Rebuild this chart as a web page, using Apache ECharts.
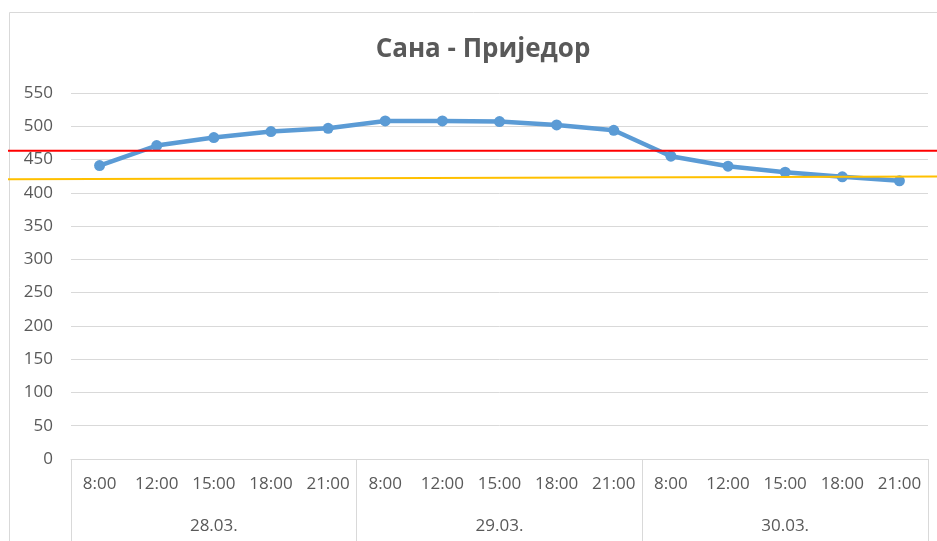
<!DOCTYPE html>
<html>
<head>
<meta charset="utf-8">
<script src="https://cdn.jsdelivr.net/npm/echarts@6/dist/echarts.min.js"></script>
<style>html,body{margin:0;padding:0;background:#fff}#c{width:937px;height:541px}</style>
</head>
<body>
<div id="c"></div>
<script>
var titleText = 'Сана - Приједор';
var times = ['8:00','12:00','15:00','18:00','21:00','8:00','12:00','15:00','18:00','21:00','8:00','12:00','15:00','18:00','21:00'];
var dates = ['28.03.','29.03.','30.03.'];
var levels = [441, 471, 483, 492, 497, 508, 508, 507, 502, 494, 455, 440, 431, 424, 418];
var redLevel = [463.3, 463.3];
var yellowLevel = [420.3, 424.4];
var yTicks = {min: 0, max: 550, interval: 50};

var FONT = 'Open Sans';
var TXT = '#595959';
var GRID = '#d9d9d9';

var chart = echarts.init(document.getElementById('c'), null, {renderer: 'canvas'});
chart.setOption({
  animation: false,
  backgroundColor: '#fff',
  title: {
    text: titleText,
    left: 478, top: 32, textAlign: 'center',
    textStyle: {fontFamily: FONT, fontWeight: 'bold', fontSize: 26, color: TXT}
  },
  graphic: [{
    type: 'rect', silent: true, z: -10,
    shape: {x: 9.5, y: 12.5, width: 1000, height: 1000},
    style: {fill: 'none', stroke: GRID, lineWidth: 1}
  }],
  grid: [
    {left: 71, right: 9, top: 93, bottom: 82, containLabel: false},
    {left: 8, right: 0, top: 93, bottom: 82, containLabel: false}
  ],
  xAxis: [
    {
      type: 'category', gridIndex: 0, data: times, boundaryGap: true,
      axisLine: {show: true, lineStyle: {color: GRID, width: 1}},
      axisTick: {show: false},
      axisLabel: {interval: 0, margin: 17, fontFamily: FONT, fontSize: 17, color: TXT}
    },
    {
      type: 'category', gridIndex: 0, data: dates, position: 'bottom', boundaryGap: true,
      axisLine: {show: false},
      axisTick: {show: true, interval: 0, length: 90, lineStyle: {color: GRID, width: 1}},
      axisLabel: {interval: 0, margin: 59, fontFamily: FONT, fontSize: 17, color: TXT}
    },
    {
      type: 'value', gridIndex: 1, min: 0, max: 1, show: false
    }
  ],
  yAxis: [
    {
      type: 'value', gridIndex: 0, min: yTicks.min, max: yTicks.max, interval: yTicks.interval,
      axisLine: {show: false}, axisTick: {show: false},
      splitLine: {show: true, lineStyle: {color: GRID, width: 1}},
      axisLabel: {margin: 18, fontFamily: FONT, fontSize: 17, color: TXT}
    },
    {
      type: 'value', gridIndex: 1, min: yTicks.min, max: yTicks.max, show: false
    }
  ],
  series: [
    {
      type: 'line', xAxisIndex: 0, yAxisIndex: 0, data: levels,
      symbol: 'circle', symbolSize: 11,
      lineStyle: {color: '#5b9bd5', width: 4.5},
      itemStyle: {color: '#5b9bd5'},
      z: 2
    },
    {
      type: 'line', xAxisIndex: 2, yAxisIndex: 1,
      data: [[0, redLevel[0]], [1, redLevel[1]]],
      symbol: 'none', lineStyle: {color: '#ff0000', width: 2}, z: 3
    },
    {
      type: 'line', xAxisIndex: 2, yAxisIndex: 1,
      data: [[0, yellowLevel[0]], [1, yellowLevel[1]]],
      symbol: 'none', lineStyle: {color: '#ffc000', width: 2}, z: 3
    }
  ]
});
</script>
</body>
</html>
